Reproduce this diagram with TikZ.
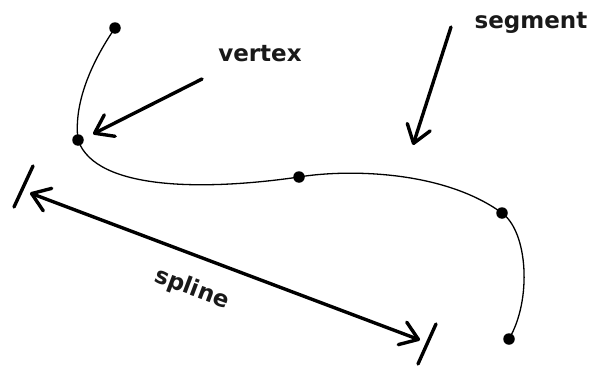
\documentclass[tikz,border=0pt]{standalone}
\usepackage{fontspec}
\setmainfont{DejaVu Sans}
\usetikzlibrary{arrows.meta}
\begin{document}
\begin{tikzpicture}[x=1pt,y=-1pt,
  knot/.style={circle,fill=black,inner sep=0pt,minimum size=11.5pt},
  tag/.style={font=\bfseries\fontsize{23}{27}\selectfont,inner sep=0pt,text=black!90},
  curveline/.style={line width=1.3pt},
  barb/.tip={Straight Barb[length=17pt,width=24pt,line cap=round,line join=round]},
  pointer/.style={line width=3.4pt,line cap=round,-{barb}},
  bothways/.style={line width=3.4pt,line cap=round,{barb}-{barb}},
  endbar/.style={line width=3.4pt,line cap=round}]
\useasboundingbox (0,0) rectangle (595,367);

% knots of the curve
\node[knot] (p1) at (115,28) {};
\node[knot] (p2) at (78,140) {};
\node[knot] (p3) at (299,177) {};
\node[knot] (p4) at (502,213) {};
\node[knot] (p5) at (509,339) {};

% the piecewise curve through the knots
\draw[curveline] (p1.center) .. controls (95,57) and (73,100) .. (p2.center)
  .. controls (96,192) and (210,190) .. (p3.center)
  .. controls (340,170) and (440,168) .. (p4.center)
  .. controls (528,232) and (532,300) .. (p5.center);

% labels
\node[tag,anchor=base] (vtx) at (260,61) {vertex};
\node[tag,anchor=base] (seg) at (531,28) {segment};
\node[tag,rotate=-20.6] (spl) at (192,289) {spline};

% pointer arrows
\coordinate (vtxstart) at (202,79);
\coordinate (vtxtip) at (93,134);
\draw[pointer] (vtxstart) -- (vtxtip);

\coordinate (segstart) at (451,27);
\coordinate (segtip) at (413,145);
\draw[pointer] (segstart) -- (segtip);

% span of the spline with end bars
\coordinate (spanleft) at (30,193);
\coordinate (spanright) at (420,340);
\draw[bothways] (spanleft) -- (spanright);

\coordinate (barlefttop) at (33,166);
\coordinate (barleftbot) at (14,207);
\draw[endbar] (barlefttop) -- (barleftbot);
\coordinate (barrighttop) at (436,324);
\coordinate (barrightbot) at (418,364);
\draw[endbar] (barrighttop) -- (barrightbot);
\end{tikzpicture}
\end{document}
